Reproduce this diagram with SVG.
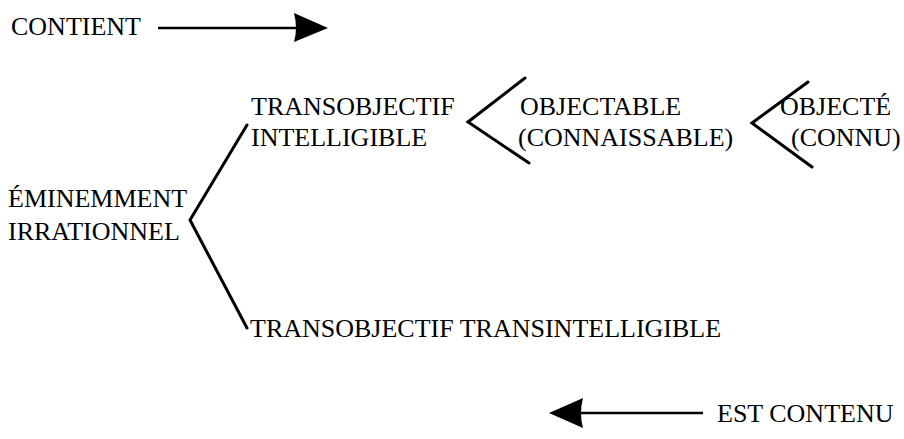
<svg xmlns="http://www.w3.org/2000/svg" width="904" height="439" viewBox="0 0 904 439">
<style>
  text { font-family: "Liberation Serif", "Times New Roman", serif; font-size: 26px; fill: #000; }
  .br { fill: none; stroke: #000; stroke-width: 3; stroke-linecap: round; stroke-linejoin: miter; }
  .ar { fill: none; stroke: #000; stroke-width: 2.5; }
  .head { fill: #000; }
</style>
<rect width="904" height="439" fill="#fff"/>
<g id="legend-contient">
  <text x="11" y="35">CONTIENT</text>
</g>
<g id="legend-est-contenu">
  <text x="717" y="422">EST CONTENU</text>
</g>
<g id="node-eminemment">
  <text x="8" y="207">ÉMINEMMENT</text>
  <text x="8" y="240">IRRATIONNEL</text>
</g>
<g id="node-transobjectif-intelligible">
  <text x="251" y="115">TRANSOBJECTIF</text>
  <text x="251" y="146">INTELLIGIBLE</text>
</g>
<g id="node-objectable">
  <text x="520" y="115">OBJECTABLE</text>
  <text x="518" y="146">(CONNAISSABLE)</text>
</g>
<g id="node-objecte">
  <text x="780" y="115">OBJECTÉ</text>
  <text x="791" y="146">(CONNU)</text>
</g>
<g id="node-transintelligible">
  <text x="250" y="337">TRANSOBJECTIF TRANSINTELLIGIBLE</text>
</g>
<g id="connectors">
  <polyline class="br" points="247,125 190,220 247,328"/>
  <polyline class="br" points="525,78 468,122 529,163"/>
  <polyline class="br" points="808,82 752,123 812,167"/>
  <line class="ar" x1="158" y1="28" x2="297" y2="28"/>
  <path class="head" d="M328,28 L294,13 Q298,28 294,42 Z"/>
  <line class="ar" x1="580" y1="413" x2="703" y2="413"/>
  <path class="head" d="M549,413 L583,398 Q579,413 583,428 Z"/>
</g>
</svg>
